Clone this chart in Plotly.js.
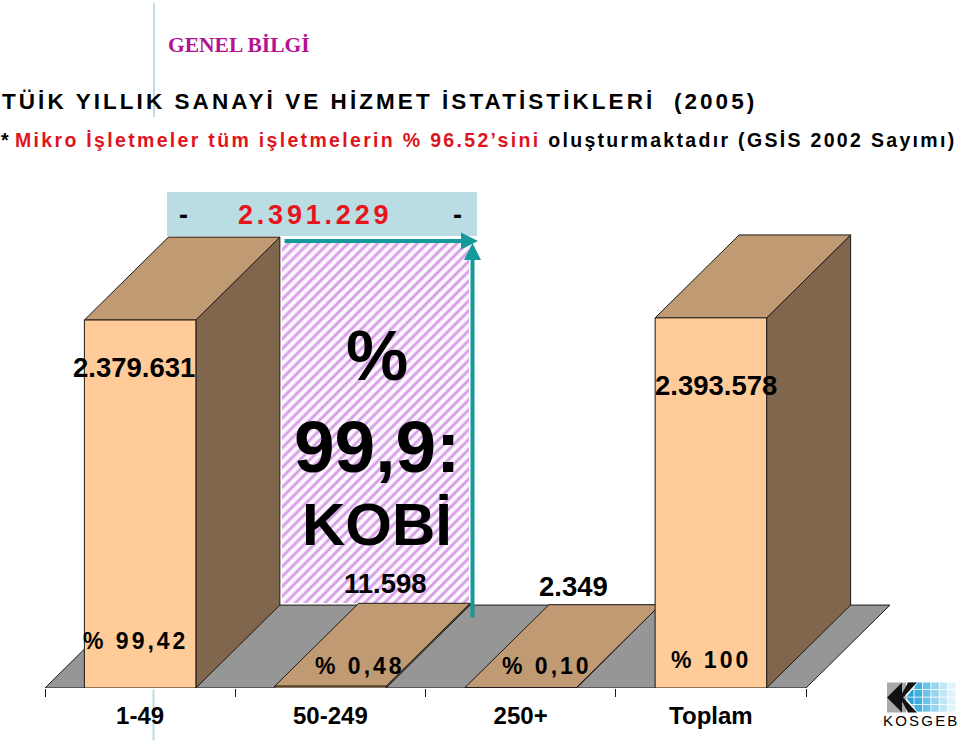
<!DOCTYPE html>
<html>
<head>
<meta charset="utf-8">
<script src="https://cdn.plot.ly/plotly-3.0.1.min.js"></script>
<style>html,body{margin:0;padding:0;background:#fff}#chart{width:960px;height:744px}</style>
</head>
<body>
<div id="chart"></div>
<script>
var categories = ['1-49', '50-249', '250+', 'Toplam'];
var values = [2379631, 11598, 2349, 2393578];
var shareLabels = ['% 99,42', '% 0,48', '% 0,10', '% 100'];
var smeTotal = 2391229;
var smeLabels = ['%', '99,9:', 'KOBİ'];
var valueLabelPx = [[134, 368], [385, 584], [573, 587], [716, 386]];
var shareLabelPx = [[135, 641], [360, 666], [547, 666], [711, 660]];

var SANS = '"Liberation Sans", Arial, sans-serif';
var SERIF = '"Liberation Serif", "Times New Roman", serif';
var INK = '#1c1a18', FRONT = '#ffcc99', TOP = '#c09a72', SIDE = '#80664c', FLOOR = '#969696';
var BAND = '#b9dde3', TEAL = '#159a9c';

// Page geometry of the plot area
var L = 45, R = 891, T = 190, B = 688.5, W = R - L, H = B - T;
var unit = (806 - 45) / 4;                 // px per category
var vScale = 370.5 / 2393578;              // px per unit value
var xMax = -0.5 + W / unit, yMax = H / vScale;
var barW = 111.5 / unit, dx = 84 / unit, dy = 83 / vScale;
function px(x) { return (x - L) / W; }
function py(y) { return (B - y) / H; }

var traces = [];
function poly(xs, ys, fill, lw) {
  traces.push({ type: 'scatter', mode: 'lines', x: xs, y: ys, fill: 'toself', fillcolor: fill,
    line: { color: INK, width: lw || 1 }, hoverinfo: 'skip', showlegend: false });
}

// Hatched panel behind the SME bars, spanning the back wall
var h0 = barW / 2 + dx + 2 / unit, h1 = 1 + barW / 2 + dx - 1 / unit;
var hBase = dy + 2 / vScale, hTop = smeTotal + dy - 8 / vScale;
traces.push({ type: 'bar', x: [(h0 + h1) / 2], y: [hTop - hBase], base: [hBase], width: [h1 - h0],
  marker: { color: '#fdf7ff', line: { width: 0 },
    pattern: { shape: '/', fgcolor: '#d79fe6', bgcolor: '#fdf7ff', fgopacity: 1, size: 7, solidity: 0.42 } },
  hoverinfo: 'skip', showlegend: false });

// Floor
poly([-0.5, -0.5 + dx, 3.5 + dx, 3.5, -0.5], [0, dy, dy, 0, 0], FLOOR);

// 3-D bars
values.forEach(function (v, i) {
  var a = i - barW / 2, b = i + barW / 2;
  poly([b, b + dx, b + dx, b, b], [0, dy, v + dy, v, 0], SIDE);
  poly([a, a + dx, b + dx, b, a], [v, v + dy, v + dy, v, v], TOP);
  poly([a, b, b, a, a], [0, 0, v, v, 0], FRONT);
});

var ann = [];
function text(x, y, t, size, opt) {
  opt = opt || {};
  ann.push({ xref: 'paper', yref: 'paper', x: px(x), y: py(y), text: t, showarrow: false,
    xanchor: opt.anchor || 'center', yanchor: 'middle', align: 'left', borderpad: 0, borderwidth: 0,
    font: { family: opt.family || SANS, size: size, color: opt.color || '#000', weight: opt.weight || 700 } });
}
function spaced(t, s) { return '<span style="letter-spacing:' + s + 'px">' + t + '</span>'; }

text(168, 45, 'GENEL BİLGİ', 21.5, { anchor: 'left', family: SERIF, color: '#b5128f' });
text(1, 140, spaced('* ', 0.5) +
  '<span style="fill:#e0141c;letter-spacing:2.32px">Mikro İşletmeler tüm işletmelerin % 96.52’sini</span>' +
  spaced(' oluşturmaktadır (GSİS 2002 Sayımı)', 2.32), 19.5, { anchor: 'left' });

text(183, 215, '-', 27);
text(457, 215, '-', 27);
text(315, 215, spaced(smeTotal.toLocaleString('de-DE'), 3.8), 27, { color: '#e8141c' });

values.forEach(function (v, i) {
  text(valueLabelPx[i][0], valueLabelPx[i][1], v.toLocaleString('de-DE'), 27.5);
  text(shareLabelPx[i][0], shareLabelPx[i][1], spaced(shareLabels[i], 3), 23);
});
text(377, 356, smeLabels[0], 70);
text(377, 447, smeLabels[1], 73);
text(377, 525, smeLabels[2], 60);
text(921, 721, spaced('KOSGEB', 2.2), 15, { weight: 400 });

// Teal arrows
function arrow(x, y, ax, ay) {
  ann.push({ xref: 'paper', yref: 'paper', x: px(x), y: py(y), ax: ax, ay: ay, text: '', showarrow: true,
    arrowhead: 2, arrowsize: 0.85, arrowwidth: 4, arrowcolor: TEAL, standoff: 0 });
}
arrow(478, 241, -195, 0);
arrow(472.5, 243, 0, 376);

// Decorative page shapes
function rect(x0, y0, x1, y1, color) {
  return { type: 'rect', xref: 'paper', yref: 'paper', x0: px(x0), y0: py(y0), x1: px(x1), y1: py(y1),
    fillcolor: color, line: { width: 0 }, layer: 'above' };
}
function path(pts, color) {
  return { type: 'path', xref: 'paper', yref: 'paper', fillcolor: color, line: { width: 0 }, layer: 'above',
    path: pts.map(function (p, i) { return (i ? 'L' : 'M') + px(p[0]) + ',' + py(p[1]); }).join(' ') + ' Z' };
}
var shapes = [];
var bandRect = rect(167, 192, 477, 236, BAND); bandRect.layer = 'below'; shapes.push(bandRect);
var v1 = rect(153, 3, 155, 117, BAND); v1.layer = 'below'; shapes.push(v1);
var v2 = rect(152.5, 690, 154.5, 741, BAND); v2.layer = 'below'; shapes.push(v2);

// KOSGEB logo
shapes.push(rect(887, 683, 906, 713, '#a9a9a9'));
var gridBlue = ['#2a9fd6', '#3fb0e0', '#69c3e8', '#98d6ef', '#c3e6f5', '#e2f2f9'];
for (var c = 0; c < 6; c++) {
  for (var r = 0; r < 4; r++) {
    shapes.push(rect(906 + c * 8.4, 683 + r * 7.5, 906 + (c + 1) * 8.4 - 0.8, 683 + (r + 1) * 7.5 - 0.8, gridBlue[c]));
  }
}
shapes.push(path([[906, 683], [918, 683], [906, 698], [918, 713], [906, 713]], '#ffffff'));
shapes.push(path([[887, 698], [902, 683], [902, 713]], '#111111'));
shapes.push(path([[903, 698], [917, 683], [908, 683], [900, 698], [908, 713], [917, 713]], '#111111'));

var layout = {
  width: 960, height: 744, autosize: false,
  margin: { l: L, r: 960 - R, t: T, b: 744 - B, pad: 0 },
  paper_bgcolor: '#fff', plot_bgcolor: 'rgba(0,0,0,0)',
  showlegend: false, dragmode: false,
  title: { text: spaced('TÜİK YILLIK SANAYİ VE HİZMET İSTATİSTİKLERİ  (2005)', 3.06),
    x: 2 / 960, xref: 'container', xanchor: 'left', y: 1 - 101 / 744, yref: 'container', yanchor: 'middle',
    font: { family: SANS, size: 22.5, color: '#000', weight: 700 } },
  xaxis: { range: [-0.5, xMax], tickmode: 'array', tickvals: [0, 1, 2, 3], ticktext: categories,
    ticks: '', showgrid: false, zeroline: false, showline: false, fixedrange: true,
    ticklabelstandoff: 11,
    tickfont: { family: SANS, size: 24, color: '#000', weight: 700 },
    minor: { ticks: 'outside', ticklen: 8, tickwidth: 1, tickcolor: INK, tick0: -0.5, dtick: 1, showgrid: false } },
  yaxis: { range: [0, yMax], visible: false, fixedrange: true, zeroline: false, showgrid: false },
  bargap: 0,
  annotations: ann, shapes: shapes
};
Plotly.newPlot('chart', traces, layout, { displayModeBar: false, staticPlot: true });
</script>
</body>
</html>
